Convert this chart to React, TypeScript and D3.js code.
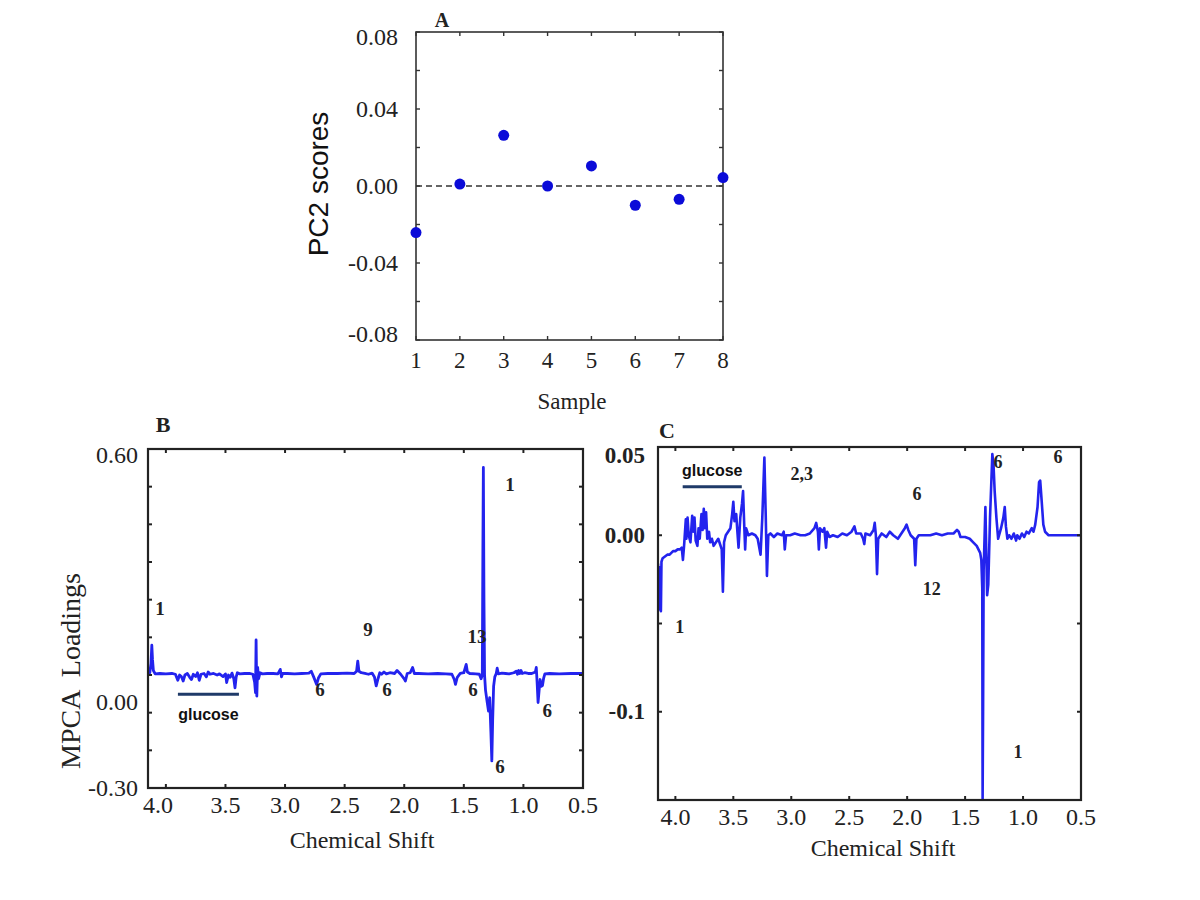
import React from "react";
import * as d3 from "d3";

// ---- panel A: PC2 scores per sample
const samples = [1, 2, 3, 4, 5, 6, 7, 8];
const pc2Scores = [-0.0242, 0.001, 0.0263, 0.0, 0.0104, -0.01, -0.0069, 0.0044];
const aTicksY = [-0.08, -0.06, -0.04, -0.02, 0, 0.02, 0.04, 0.06, 0.08];
const aLabelsY = [0.08, 0.04, 0, -0.04, -0.08];

// ---- shared chemical shift ticks (ppm)
const shiftTicks = [4.0, 3.5, 3.0, 2.5, 2.0, 1.5, 1.0, 0.5];

// ---- panel B: MPCA loadings [ppm, loading]
const bSpectrum: [number, number][] = [
  [4.15, 0.004], [4.135, 0.006], [4.125, 0.03], [4.118, 0.079], [4.112, 0.04], [4.105, 0.012],
  [4.09, 0.003], [4.05, 0.004], [4.0, 0.003], [3.95, 0.004], [3.92, 0.002], [3.9, -0.014],
  [3.885, 0.0], [3.87, -0.004], [3.855, -0.016], [3.84, 0.0], [3.82, 0.004], [3.8, -0.006],
  [3.785, -0.012], [3.77, 0.002], [3.75, -0.004], [3.735, 0.006], [3.72, -0.014], [3.705, 0.002],
  [3.68, 0.004], [3.66, -0.005], [3.645, 0.008], [3.63, 0.002], [3.6, 0.004], [3.57, 0.0],
  [3.55, 0.003], [3.52, -0.004], [3.5, 0.003], [3.49, -0.02], [3.475, 0.0], [3.46, -0.006],
  [3.445, 0.005], [3.43, -0.01], [3.42, -0.034], [3.41, -0.005], [3.4, 0.006], [3.38, 0.003],
  [3.34, 0.004], [3.3, 0.004], [3.27, 0.002], [3.255, -0.02], [3.248, -0.047], [3.243, 0.093],
  [3.237, -0.056], [3.23, 0.02], [3.222, -0.01], [3.21, 0.006], [3.19, 0.003], [3.15, 0.004],
  [3.1, 0.004], [3.06, 0.003], [3.04, 0.015], [3.03, -0.005], [3.02, 0.004], [2.98, 0.004],
  [2.92, 0.003], [2.86, 0.004], [2.8, 0.005], [2.78, 0.01], [2.76, -0.005], [2.735, -0.025],
  [2.72, -0.008], [2.7, 0.003], [2.64, 0.004], [2.56, 0.004], [2.48, 0.005], [2.42, 0.004],
  [2.4, 0.01], [2.39, 0.037], [2.38, 0.01], [2.36, 0.006], [2.33, 0.004], [2.3, 0.002],
  [2.27, 0.005], [2.25, -0.005], [2.235, -0.029], [2.22, -0.01], [2.205, 0.006], [2.19, 0.002],
  [2.17, 0.008], [2.15, 0.003], [2.12, 0.006], [2.08, 0.004], [2.06, 0.012], [2.03, 0.002],
  [2.0, -0.01], [1.99, -0.016], [1.975, 0.004], [1.95, 0.006], [1.93, 0.02], [1.915, 0.004],
  [1.88, 0.004], [1.8, 0.003], [1.72, 0.004], [1.65, 0.003], [1.6, 0.002], [1.58, -0.012],
  [1.57, -0.025], [1.555, -0.006], [1.53, 0.004], [1.5, 0.006], [1.48, 0.028], [1.47, 0.008],
  [1.45, 0.004], [1.4, 0.003], [1.37, 0.002], [1.355, -0.01], [1.345, 0.0], [1.34, 0.34],
  [1.336, 0.551], [1.331, 0.2], [1.326, 0.0], [1.318, -0.04], [1.305, -0.07], [1.293, -0.096],
  [1.283, -0.06], [1.273, -0.15], [1.265, -0.228], [1.258, -0.12], [1.25, -0.03], [1.24, -0.005],
  [1.228, 0.004], [1.22, 0.018], [1.21, 0.003], [1.18, 0.005], [1.15, 0.004], [1.12, 0.003],
  [1.08, 0.006], [1.06, 0.01], [1.05, 0.002], [1.04, 0.012], [1.03, 0.004], [1.02, 0.012],
  [1.01, 0.004], [0.99, 0.006], [0.96, 0.004], [0.93, 0.004], [0.9, 0.008], [0.892, 0.02],
  [0.885, -0.02], [0.877, -0.073], [0.868, -0.04], [0.86, -0.012], [0.85, -0.03], [0.84, -0.028],
  [0.83, -0.008], [0.82, 0.003], [0.78, 0.004], [0.7, 0.003], [0.6, 0.004], [0.5, 0.004],
];
const bTicksY = [-0.3, -0.2, -0.1, 0, 0.1, 0.2, 0.3, 0.4, 0.5, 0.6];
const bLabelsY = [0.6, 0, -0.3];
const bNotes = [
  { ppm: 4.05, v: 0.177, text: "1" },
  { ppm: 2.304, v: 0.121, text: "9" },
  { ppm: 1.389, v: 0.103, text: "13" },
  { ppm: 1.112, v: 0.506, text: "1" },
  { ppm: 2.707, v: -0.038, text: "6" },
  { ppm: 2.144, v: -0.038, text: "6" },
  { ppm: 1.422, v: -0.038, text: "6" },
  { ppm: 0.801, v: -0.094, text: "6" },
  { ppm: 1.196, v: -0.242, text: "6" },
];
const bGlucose = { from: 3.899, to: 3.387, v: -0.051, labelV: -0.104 };

// ---- panel C: loadings [ppm, loading]
const cSpectrum: [number, number][] = [
  [4.15, -0.016], [4.145, -0.03], [4.14, -0.018], [4.135, -0.042], [4.13, -0.02], [4.125, -0.043],
  [4.12, -0.015], [4.11, -0.013], [4.09, -0.012], [4.07, -0.011], [4.05, -0.011], [4.02, -0.009],
  [4.0, -0.009], [3.98, -0.008], [3.96, -0.008], [3.945, -0.007], [3.935, -0.014], [3.925, -0.006],
  [3.91, 0.009], [3.905, -0.002], [3.895, 0.01], [3.885, 0.0], [3.87, -0.004], [3.855, 0.011],
  [3.845, 0.002], [3.835, 0.01], [3.825, -0.003], [3.81, -0.006], [3.8, 0.004], [3.79, -0.002],
  [3.775, 0.012], [3.765, 0.003], [3.755, 0.015], [3.745, 0.004], [3.735, 0.013], [3.725, -0.002],
  [3.71, 0.002], [3.7, -0.004], [3.685, -0.002], [3.67, -0.006], [3.65, -0.004], [3.63, -0.002],
  [3.6, -0.008], [3.59, -0.032], [3.58, -0.004], [3.565, 0.0], [3.545, 0.002], [3.525, 0.004],
  [3.51, 0.012], [3.5, 0.019], [3.49, 0.008], [3.475, 0.012], [3.465, 0.002], [3.455, -0.007],
  [3.44, 0.01], [3.425, 0.018], [3.416, 0.025], [3.405, 0.004], [3.398, -0.008], [3.39, 0.004],
  [3.37, 0.0], [3.34, 0.001], [3.31, 0.0], [3.29, -0.002], [3.265, -0.011], [3.25, 0.01],
  [3.232, 0.044], [3.22, 0.01], [3.21, -0.023], [3.198, 0.0], [3.18, 0.001], [3.15, -0.001],
  [3.12, 0.001], [3.08, 0.0], [3.065, 0.002], [3.056, -0.008], [3.045, 0.0], [3.01, 0.0],
  [2.97, 0.001], [2.92, 0.0], [2.88, 0.0], [2.84, 0.001], [2.8, 0.004], [2.785, 0.007],
  [2.77, 0.002], [2.762, -0.008], [2.752, 0.004], [2.73, 0.002], [2.715, 0.004], [2.7, -0.007],
  [2.69, 0.002], [2.67, -0.001], [2.64, 0.0], [2.6, -0.001], [2.56, 0.001], [2.52, 0.0],
  [2.48, 0.002], [2.455, 0.005], [2.44, 0.001], [2.4, 0.001], [2.38, -0.002], [2.37, -0.005],
  [2.36, 0.001], [2.32, 0.0], [2.29, 0.003], [2.28, 0.007], [2.27, 0.0], [2.26, -0.022],
  [2.25, -0.002], [2.22, 0.001], [2.18, -0.001], [2.15, 0.002], [2.12, 0.0], [2.08, -0.002],
  [2.05, 0.001], [2.02, 0.004], [2.005, 0.006], [1.99, 0.003], [1.97, 0.0], [1.94, -0.002],
  [1.93, -0.017], [1.92, -0.002], [1.9, 0.0], [1.85, 0.0], [1.8, 0.0], [1.75, 0.001],
  [1.7, 0.0], [1.65, 0.001], [1.6, 0.001], [1.57, 0.003], [1.555, 0.002], [1.54, -0.001],
  [1.5, -0.001], [1.46, -0.002], [1.43, -0.004], [1.4, -0.006], [1.37, -0.01], [1.36, -0.014],
  [1.352, -0.03], [1.349, -0.15], [1.345, -0.1], [1.34, -0.02], [1.325, 0.016], [1.31, -0.034],
  [1.3, -0.028], [1.285, 0.01], [1.265, 0.046], [1.255, 0.04], [1.245, 0.025], [1.23, 0.01],
  [1.215, -0.002], [1.19, 0.004], [1.17, 0.01], [1.158, 0.016], [1.148, 0.005], [1.135, -0.002],
  [1.12, 0.0], [1.1, -0.002], [1.08, 0.001], [1.06, -0.003], [1.05, 0.0], [1.03, -0.002],
  [1.01, 0.001], [0.99, -0.001], [0.97, 0.002], [0.95, 0.001], [0.925, 0.004], [0.91, 0.002],
  [0.895, 0.006], [0.875, 0.016], [0.862, 0.03], [0.852, 0.031], [0.84, 0.02], [0.825, 0.006],
  [0.81, 0.002], [0.78, 0.0], [0.7, 0.0], [0.6, 0.0], [0.5, 0.0],
];
const cTicksY = [0.05, 0, -0.05, -0.1, -0.15];
const cLabelsY = [0.05, 0, -0.1];
const cNotes = [
  { ppm: 2.909, v: 0.0347, text: "2,3" },
  { ppm: 1.916, v: 0.0233, text: "6" },
  { ppm: 1.787, v: -0.0307, text: "12" },
  { ppm: 1.217, v: 0.0415, text: "6" },
  { ppm: 0.699, v: 0.0444, text: "6" },
  { ppm: 3.963, v: -0.0518, text: "1" },
  { ppm: 1.044, v: -0.123, text: "1" },
];
const cGlucose = { from: 3.937, to: 3.427, v: 0.0275, labelV: 0.0366 };

const serif = "'Liberation Serif', 'Times New Roman', serif";
const sans = "'Liberation Sans', Arial, sans-serif";
const lineBlue = "#2323ee";

const fmt = (v: number, d: number) => (v === 0 ? (0).toFixed(d) : v.toFixed(d));

const App = () => {
  // panel A scales
  const ax = d3.scaleLinear().domain([1, 8]).range([416, 723]);
  const ay = d3.scaleLinear().domain([-0.08, 0.08]).range([340, 32]);
  // panel B scales
  const bx = d3.scaleLinear().domain([4.15, 0.5]).range([148, 583]);
  const by = d3.scaleLinear().domain([-0.3, 0.6]).range([788, 449]);
  // panel C scales
  const cx = d3.scaleLinear().domain([4.15, 0.5]).range([658, 1081]);
  const cy = d3.scaleLinear().domain([-0.15, 0.05]).range([800, 447]);

  const bLine = d3.line<[number, number]>().x((d) => bx(d[0])).y((d) => by(d[1]));
  const cLine = d3.line<[number, number]>().x((d) => cx(d[0])).y((d) => cy(d[1]));

  const tickLen = 4;

  const frame = (x: any, y: any, color: string, w: number) => {
    const [x0, x1] = x.range();
    const [y1, y0] = y.range();
    return (
      <rect x={x0} y={y0} width={x1 - x0} height={y1 - y0} fill="none" stroke={color} strokeWidth={w} />
    );
  };

  const yTicks = (x: any, y: any, vals: number[], color: string, w: number) => {
    const [x0, x1] = x.range();
    return vals.map((v, i) => (
      <g key={"yt" + i} stroke={color} strokeWidth={w}>
        <line x1={x0} x2={x0 + tickLen} y1={y(v)} y2={y(v)} />
        <line x1={x1} x2={x1 - tickLen} y1={y(v)} y2={y(v)} />
      </g>
    ));
  };

  const xTicks = (x: any, y: any, vals: number[], color: string, w: number) => {
    const [y1, y0] = y.range();
    return vals.map((v, i) => (
      <g key={"xt" + i} stroke={color} strokeWidth={w}>
        <line x1={x(v)} x2={x(v)} y1={y0} y2={y0 + tickLen} />
        <line x1={x(v)} x2={x(v)} y1={y1} y2={y1 - tickLen} />
      </g>
    ));
  };

  return (
    <svg width={1200} height={900} style={{ position: "absolute", left: 0, top: 0, background: "#fff" }}>
      <rect width={1200} height={900} fill="#fff" />
      <defs>
        <clipPath id="clipB">
          <rect x={148} y={449} width={435} height={339} />
        </clipPath>
        <clipPath id="clipC">
          <rect x={658} y={447} width={423} height={353} />
        </clipPath>
      </defs>

      {/* ---------- Panel A ---------- */}
      <text x={442} y={27} fontFamily={serif} fontWeight="bold" fontSize={20} textAnchor="middle" fill="#222">
        A
      </text>
      <line x1={ax(1)} x2={ax(8)} y1={ay(0)} y2={ay(0)} stroke="#333" strokeWidth={1.6} strokeDasharray="6,4" />
      {yTicks(ax, ay, aTicksY, "#333", 1.4)}
      {xTicks(ax, ay, samples, "#333", 1.4)}
      {frame(ax, ay, "#333", 1.6)}
      {aLabelsY.map((v, i) => (
        <text
          key={"al" + i}
          x={398}
          y={Math.min(Math.max(ay(v), 32 + 5), 340 - 6)}
          dominantBaseline="central"
          textAnchor="end"
          fontFamily={serif}
          fontSize={24}
          fill="#222"
        >
          {fmt(v, 2)}
        </text>
      ))}
      {samples.map((s, i) => (
        <text key={"ax" + i} x={ax(s)} y={368} textAnchor="middle" fontFamily={serif} fontSize={23} fill="#222">
          {s}
        </text>
      ))}
      <text x={572} y={409} textAnchor="middle" fontFamily={serif} fontSize={23} fill="#222">
        Sample
      </text>
      <text
        transform="translate(318,184) rotate(-90)"
        textAnchor="middle"
        dominantBaseline="central"
        fontFamily={sans}
        fontSize={28}
        fill="#111"
      >
        PC2 scores
      </text>
      {samples.map((s, i) => (
        <circle key={"pt" + i} cx={ax(s)} cy={ay(pc2Scores[i])} r={5.5} fill="#0b0bd8" />
      ))}

      {/* ---------- Panel B ---------- */}
      <text x={163} y={432} fontFamily={serif} fontWeight="bold" fontSize={22} textAnchor="middle" fill="#222">
        B
      </text>
      <path
        d={bLine(bSpectrum) || ""}
        fill="none"
        stroke={lineBlue}
        strokeWidth={2.8}
        strokeLinejoin="round"
        clipPath="url(#clipB)"
      />
      {yTicks(bx, by, bTicksY, "#222", 2)}
      {xTicks(bx, by, shiftTicks, "#222", 2)}
      {frame(bx, by, "#222", 2.2)}
      {bLabelsY.map((v, i) => (
        <text
          key={"bl" + i}
          x={138}
          y={Math.max(by(v), 449 + 6) + (v === 0 ? 27 : 0)}
          dominantBaseline="central"
          textAnchor="end"
          fontFamily={serif}
          fontSize={24}
          fill="#222"
        >
          {fmt(v, 2)}
        </text>
      ))}
      {shiftTicks.map((t, i) => (
        <text
          key={"bx" + i}
          x={bx(t) - (i === 0 ? 8 : 0)}
          y={813}
          textAnchor="middle"
          fontFamily={serif}
          fontSize={24}
          fill="#222"
        >
          {t.toFixed(1)}
        </text>
      ))}
      <text x={362} y={848} textAnchor="middle" fontFamily={serif} fontSize={24} fill="#222">
        Chemical Shift
      </text>
      <text
        transform="translate(70,671) rotate(-90)"
        textAnchor="middle"
        dominantBaseline="central"
        fontFamily={serif}
        fontSize={28}
        fill="#222"
        style={{ whiteSpace: "pre" }}
      >
        {"MPCA  Loadings"}
      </text>
      {bNotes.map((n, i) => (
        <text
          key={"bn" + i}
          x={bx(n.ppm)}
          y={by(n.v)}
          textAnchor="middle"
          dominantBaseline="central"
          fontFamily={serif}
          fontWeight="bold"
          fontSize={19}
          fill="#222"
        >
          {n.text}
        </text>
      ))}
      <line
        x1={bx(bGlucose.from)}
        x2={bx(bGlucose.to)}
        y1={by(bGlucose.v)}
        y2={by(bGlucose.v)}
        stroke="#1f3a68"
        strokeWidth={3}
      />
      <text
        x={(bx(bGlucose.from) + bx(bGlucose.to)) / 2}
        y={by(bGlucose.labelV)}
        textAnchor="middle"
        dominantBaseline="central"
        fontFamily={sans}
        fontWeight="bold"
        fontSize={16}
        fill="#111"
      >
        glucose
      </text>

      {/* ---------- Panel C ---------- */}
      <text x={667} y={438} fontFamily={serif} fontWeight="bold" fontSize={22} textAnchor="middle" fill="#222">
        C
      </text>
      <path
        d={cLine(cSpectrum) || ""}
        fill="none"
        stroke={lineBlue}
        strokeWidth={2.6}
        strokeLinejoin="round"
        clipPath="url(#clipC)"
      />
      {yTicks(cx, cy, cTicksY, "#222", 2)}
      {xTicks(cx, cy, shiftTicks, "#222", 2)}
      {frame(cx, cy, "#222", 2.2)}
      {cLabelsY.map((v, i) => (
        <text
          key={"cl" + i}
          x={645}
          y={Math.max(cy(v), 447 + 8)}
          dominantBaseline="central"
          textAnchor="end"
          fontFamily={serif}
          fontWeight="bold"
          fontSize={23}
          fill="#222"
        >
          {v === -0.1 ? "-0.1" : fmt(v, 2)}
        </text>
      ))}
      {shiftTicks.map((t, i) => (
        <text key={"cx" + i} x={cx(t)} y={825} textAnchor="middle" fontFamily={serif} fontSize={24} fill="#222">
          {t.toFixed(1)}
        </text>
      ))}
      <text x={883} y={856} textAnchor="middle" fontFamily={serif} fontSize={24} fill="#222">
        Chemical Shift
      </text>
      {cNotes.map((n, i) => (
        <text
          key={"cn" + i}
          x={cx(n.ppm)}
          y={cy(n.v)}
          textAnchor="middle"
          dominantBaseline="central"
          fontFamily={serif}
          fontWeight="bold"
          fontSize={18}
          fill="#222"
        >
          {n.text}
        </text>
      ))}
      <line
        x1={cx(cGlucose.from)}
        x2={cx(cGlucose.to)}
        y1={cy(cGlucose.v)}
        y2={cy(cGlucose.v)}
        stroke="#1f3a68"
        strokeWidth={3}
      />
      <text
        x={(cx(cGlucose.from) + cx(cGlucose.to)) / 2}
        y={cy(cGlucose.labelV)}
        textAnchor="middle"
        dominantBaseline="central"
        fontFamily={sans}
        fontWeight="bold"
        fontSize={16}
        fill="#111"
      >
        glucose
      </text>
    </svg>
  );
};

export default App;
